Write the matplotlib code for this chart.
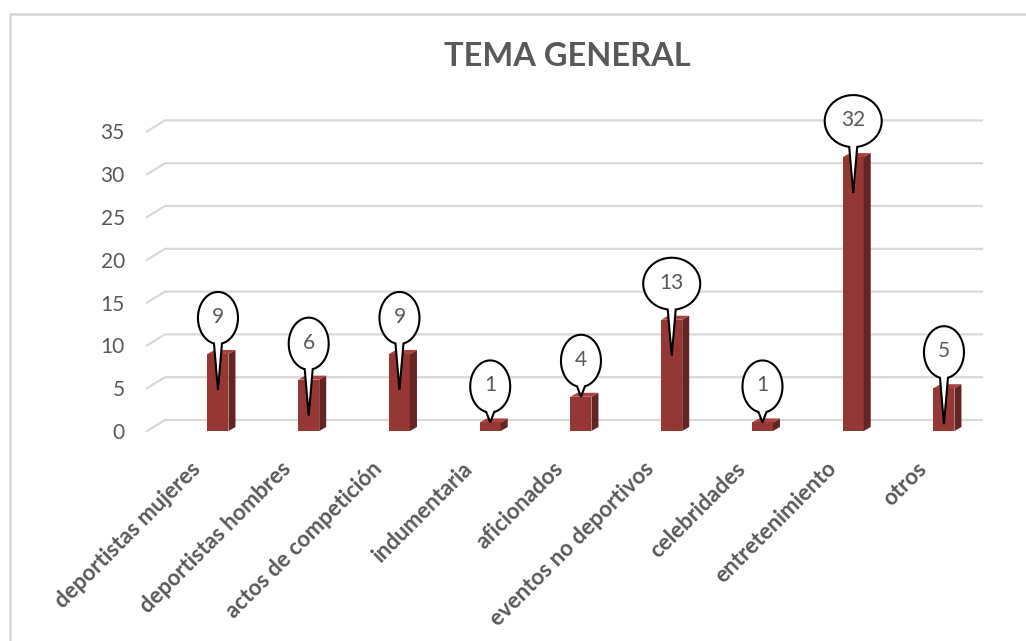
import numpy as np
import matplotlib
matplotlib.use("Agg")
import matplotlib.pyplot as plt
from matplotlib.patches import Polygon
from matplotlib.transforms import IdentityTransform
from matplotlib.lines import Line2D

# data
categories = ["deportistas mujeres", "deportistas hombres", "actos de competición",
              "indumentaria", "aficionados", "eventos no deportivos",
              "celebridades", "entretenimiento", "otros"]
values = [9, 6, 9, 1, 4, 13, 1, 32, 5]
y_ticks = [0, 5, 10, 15, 20, 25, 30, 35]
title = "TEMA GENERAL"

FONT = "Lato"
GRAY = "#595959"
FRONT = "#953735"
SIDE = "#632523"
TOP = "#a84442"
GRID = "#d9d9d9"

W, H = 1026, 641
fig = plt.figure(figsize=(W / 100, H / 100), dpi=100)

# axes placed in pixels: x=-0.782 at px 147, 90.75 px per category; y=0 at px 431
px_per_cat = 90.75
xmin, xmax = -0.782, 8.22
left = 147
width = (xmax - xmin) * px_per_cat
y0_top = 431
px_per_unit = 8.56
ymax = 35
bottom = H - y0_top
height = ymax * px_per_unit
ax = fig.add_axes([left / W, bottom / H, width / W, height / H])
ax.patch.set_visible(False)
ax.set_xlim(xmin, xmax)
ax.set_ylim(0, ymax)
for s in ax.spines.values():
    s.set_visible(False)
ax.set_xticks([])
ax.set_yticks(y_ticks)
ax.set_yticklabels([str(t) for t in y_ticks], fontsize=15, color=GRAY, family=FONT)
ax.tick_params(axis="y", length=0, pad=16)

ident = IdentityTransform()
to_px = ax.transData.transform

# back-wall gridlines with the little floor diagonal on the left
wall_dx, wall_dy = 18, 11
for t in y_ticks:
    (lx, ly) = to_px((xmin, t))
    (rx, _) = to_px((xmax, t))
    fig.add_artist(Line2D([lx, lx + wall_dx, rx + wall_dx], [ly, ly + wall_dy, ly + wall_dy],
                          transform=ident, color=GRID, lw=1.6, zorder=-1))

# bars: front face, side and top
bar_w = 21 / px_per_cat
depth_dx, depth_dy = 7, 4
x = np.arange(len(values))
ax.bar(x, values, width=bar_w, color=FRONT, zorder=3)
for xi, v in zip(x, values):
    (x0, yb) = to_px((xi - bar_w / 2, 0))
    (x1, yt) = to_px((xi + bar_w / 2, v))
    side = [(x1, yb), (x1, yt), (x1 + depth_dx, yt + depth_dy), (x1 + depth_dx, yb + depth_dy)]
    top = [(x0, yt), (x1, yt), (x1 + depth_dx, yt + depth_dy), (x0 + depth_dx, yt + depth_dy)]
    fig.add_artist(Polygon(side, closed=True, transform=ident, facecolor=SIDE, edgecolor="none", zorder=4))
    fig.add_artist(Polygon(top, closed=True, transform=ident, facecolor=TOP, edgecolor="none", zorder=4))

# callout bubbles
for xi, v in zip(x, values):
    (cx, yt) = to_px((xi, v))
    (_, yb) = to_px((xi, 0))
    cy = yt + 36
    rx = 28.5 if v >= 10 else 20
    ry = 26
    tip = cy - 72
    if tip < yb:
        tip = yt
    a = np.arcsin(4 / rx)
    t = np.linspace(-np.pi / 2 + a, 3 * np.pi / 2 - a, 120)
    pts = np.column_stack([cx + rx * np.cos(t), cy + ry * np.sin(t)])
    pts = np.vstack([pts, [cx, tip]])
    fig.add_artist(Polygon(pts, closed=True, transform=ident, facecolor="white",
                           edgecolor="black", lw=1.5, zorder=6))
    fig.text(cx / W, (cy + 1) / H, str(v), ha="center", va="center", fontsize=15,
             color=GRAY, family=FONT, zorder=7)

# category labels, rotated 45 degrees
for xi, cat in zip(x, categories):
    (cx, yb) = to_px((xi, 0))
    fig.text((cx - 28) / W, (yb - 27) / H, cat, ha="right", va="top", rotation=45,
             rotation_mode="anchor", fontsize=16, fontweight="bold", color=GRAY, family=FONT)

fig.text(567 / W, (H - 56) / H, title, ha="center", va="center", fontsize=23.5,
         fontweight="bold", color=GRAY, family=FONT)

# chart border (top and left visible)
fig.add_artist(Line2D([9.5, 9.5, W], [0, H - 14, H - 14], transform=ident, color=GRID, lw=2))

fig.savefig("out.png", dpi=100)
